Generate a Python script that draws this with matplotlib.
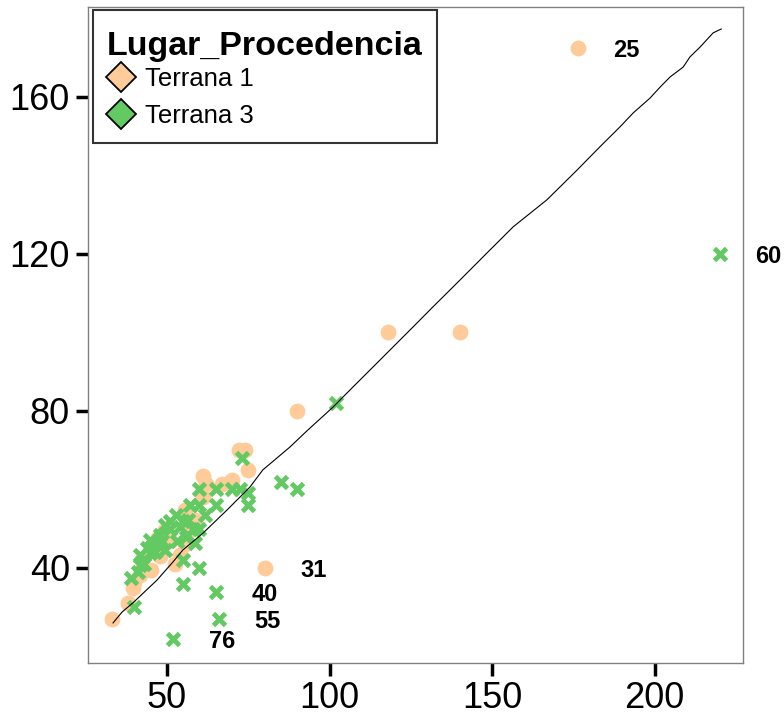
import matplotlib
matplotlib.use("Agg")
import matplotlib.pyplot as plt
from matplotlib.lines import Line2D
from matplotlib.patches import Rectangle

plt.rcParams["font.family"] = ["Liberation Sans", "DejaVu Sans"]

# Terrana 1 (orange circles)
t1_x = [176.5, 118, 140, 90, 72, 74, 75, 62, 70, 67, 61, 61, 80, 33, 38, 39.5, 42.3,
        52.5, 51, 48, 55.5, 57, 41.7, 40, 45, 55.5, 58.6, 47.2, 49.4, 54]
t1_y = [172.5, 100, 100, 80, 70, 70, 65, 61.5, 62.4, 61.4, 63.4, 58, 40, 27, 31, 35, 42,
        41, 47, 43, 46, 49.7, 38.2, 36.4, 39.5, 54.8, 52.2, 47.6, 49.7, 43.3]

# Terrana 3 (green crosses)
t3_x = [220, 102, 73, 85, 90, 75, 75, 60, 65, 60, 65, 70, 72.5, 55, 51, 54, 58, 60,
        55, 60, 55, 65, 66, 52, 40, 41, 39, 44, 47, 43, 48.5, 52.8, 56.5, 49.4, 44.8,
        41.7, 46.3, 57, 61.7, 51, 47.8, 53, 56, 58.6, 49.4, 44.8, 41.7]
t3_y = [120, 82, 68, 62, 60, 59, 56, 60, 60, 56, 56, 60, 60, 52, 50, 50.5, 50, 50,
        42, 40, 36, 34, 27, 22, 30, 39, 37.5, 45, 46, 41, 47, 53.5, 52.2, 51, 43.8,
        40.8, 44, 56, 53.5, 52, 48.4, 47, 48, 46.4, 44.6, 47.1, 43.3]

# reference line
line_x = [33.4, 36.2, 39.5, 46.9, 51.8, 54.9, 61.1, 68.5, 75.5, 79.5, 87.8, 93.4,
          101.1, 107.2, 114.6, 125.7, 131.8, 140.2, 148.5, 156.5, 166.9, 176.2, 183.2,
          189.4, 193.4, 198.6, 201.7, 204.8, 208.8, 210.9, 214.0, 218.0, 220.5]
line_y = [26.0, 28.8, 31.1, 36.9, 41.5, 44.6, 48.9, 54.8, 60.6, 65.0, 70.8, 75.2,
          81.0, 86.1, 92.2, 101.4, 106.5, 113.4, 120.3, 126.9, 133.8, 141.4, 147.3,
          152.4, 155.9, 159.7, 162.5, 165.1, 167.6, 170.2, 172.7, 176.3, 177.3]

# labelled outliers
lab_x = [176.5, 220, 80, 65, 66, 52]
lab_y = [172.5, 120, 40, 34, 27, 22]
lab_txt = ["25", "60", "31", "40", "55", "76"]

ORANGE = "#FFCB99"
GREEN = "#63C963"
W, H = 784, 722

fig = plt.figure(figsize=(W / 100, H / 100), dpi=100)
ax = fig.add_axes([88 / W, 1 - 663 / H, 655 / W, 656 / H])

ax.scatter(t1_x, t1_y, s=130, color=ORANGE, linewidths=0, zorder=2)
ax.scatter(t3_x, t3_y, s=75, marker="x", color=GREEN, linewidths=3.5, zorder=3)
ax.plot(line_x, line_y, color="black", linewidth=0.8, zorder=4)

for x, y, t in zip(lab_x, lab_y, lab_txt):
    ax.annotate(t, (x, y), xytext=(35, -2), textcoords="offset points",
                ha="center", va="center", fontsize=17, fontweight="bold",
                annotation_clip=False)

ax.set_xlim(25.7, 227.2)
ax.set_ylim(15.8, 182.9)
ax.set_xticks([50, 100, 150, 200])
ax.set_yticks([40, 80, 120, 160])
ax.tick_params(length=9, width=2.5, labelsize=26, pad=4, color="black")
for s in ax.spines.values():
    s.set_color("#808080")
    s.set_linewidth(1.0)

# legend box drawn by hand so the title sits like the original
fig.patches.append(Rectangle((93 / W, 1 - 143 / H), 344 / W, 133 / H,
                             transform=fig.transFigure, facecolor="white",
                             edgecolor="#333333", linewidth=1.5, zorder=5))
fig.text(107 / W, 1 - 46 / H, "Lugar_Procedencia", fontsize=24.5, fontweight="bold",
         ha="left", va="center", zorder=6)

handles = [
    Line2D([], [], linestyle="none", marker="D", markersize=15, markerfacecolor=ORANGE,
           markeredgecolor="black", markeredgewidth=1.3, label="Terrana 1"),
    Line2D([], [], linestyle="none", marker="D", markersize=15, markerfacecolor=GREEN,
           markeredgecolor="black", markeredgewidth=1.3, label="Terrana 3"),
]
leg = fig.legend(handles=handles, loc="center left",
                 bbox_to_anchor=(109.5 / W, 1 - 97.5 / H), borderaxespad=0,
                 fontsize=18.5, frameon=False, handlelength=0.9, handletextpad=0.5,
                 labelspacing=0.52, borderpad=0)
leg.set_zorder(7)

fig.savefig("out.png", dpi=100)
